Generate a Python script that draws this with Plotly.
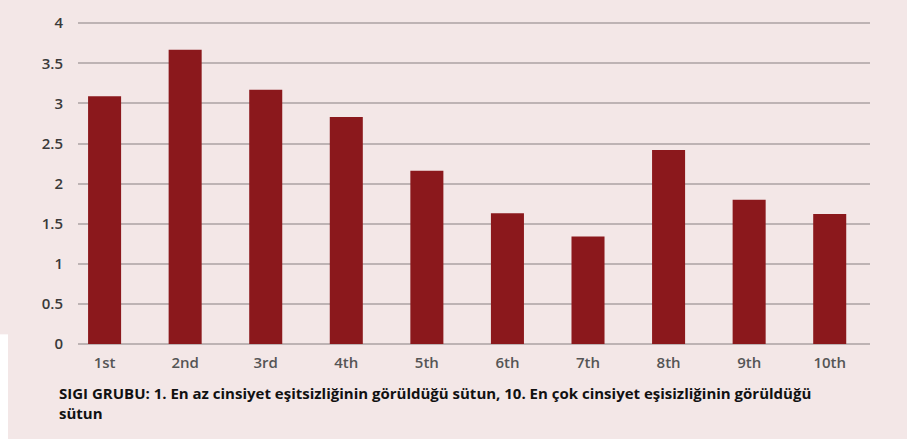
import plotly.graph_objects as go

groups = ["1st", "2nd", "3rd", "4th", "5th", "6th", "7th", "8th", "9th", "10th"]
values = [3.09, 3.67, 3.17, 2.83, 2.16, 1.63, 1.34, 2.42, 1.80, 1.62]
y_ticks = [0, 0.5, 1, 1.5, 2, 2.5, 3, 3.5, 4]

bg = "#f3e7e7"
bar_color = "#8b181c"
grid = "#bdb3b4"

fig = go.Figure()

fig.add_trace(go.Bar(
    x=groups,
    y=values,
    marker=dict(color=bar_color, line_width=0),
    width=0.41,
))

fig.update_layout(
    width=907,
    height=439,
    paper_bgcolor=bg,
    plot_bgcolor=bg,
    showlegend=False,
    margin=dict(l=78, r=37, t=17, b=95),
    font=dict(family="Open Sans", color="#404040"),
    xaxis=dict(
        range=[-0.33, 9.5],
        showgrid=False,
        showline=False,
        zeroline=False,
        tickfont=dict(size=15, color="#555555", weight=600),
        ticks="",
        ticklabelstandoff=8,
    ),
    yaxis=dict(
        range=[0, 4.015],
        tickvals=y_ticks,
        ticktext=[f"{v:g}" for v in y_ticks],
        showgrid=True,
        gridcolor=grid,
        gridwidth=2,
        zeroline=True,
        zerolinecolor=grid,
        zerolinewidth=2,
        showline=False,
        ticks="",
        ticklabelstandoff=14,
        tickfont=dict(size=15, color="#3a3a3a", weight=600),
    ),
    annotations=[dict(
        text="SIGI GRUBU: 1. En az cinsiyet eşitsizliğinin görüldüğü sütun, 10. En çok cinsiyet eşisizliğinin görüldüğü<br>sütun",
        xref="paper", yref="paper",
        x=-21 / 792, y=-0.115,
        xanchor="left", yanchor="top",
        align="left",
        showarrow=False,
        font=dict(size=15, color="#111111", family="Open Sans", weight="bold"),
    )],
)

fig.add_shape(type="line", xref="paper", yref="paper",
              x0=-74 / 792, x1=-74 / 792, y0=-0.3, y1=0.03,
              line=dict(color="white", width=8), layer="below")

fig.write_html("out.html", config={"displayModeBar": False},
               post_script="document.body.style.margin='0';")
